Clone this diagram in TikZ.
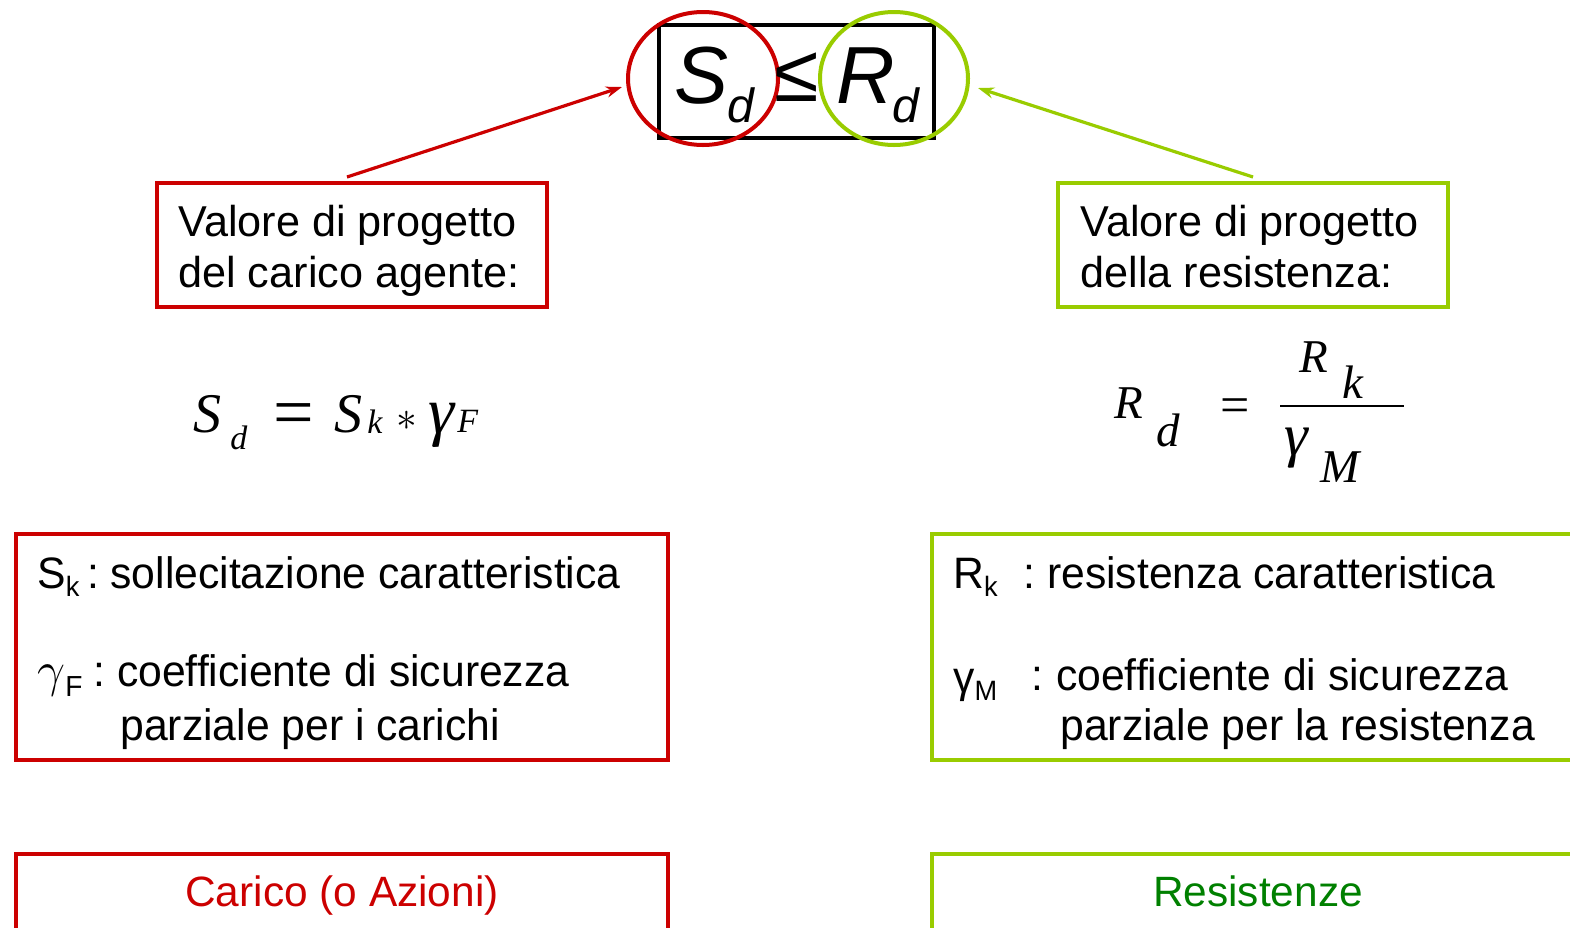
\documentclass[tikz,border=0pt]{standalone}
\usepackage{fontspec}
\setmainfont{Liberation Sans}
\newfontfamily\tms{Liberation Serif}
\newfontfamily\narrow[FakeStretch=0.97]{Liberation Sans}
\usetikzlibrary{arrows.meta,shapes.geometric}
\definecolor{rd}{RGB}{204,0,0}
\definecolor{gn}{RGB}{153,204,0}
\definecolor{dg}{RGB}{0,128,0}
\newcommand{\fs}[1]{\fontsize{#1}{#1}\selectfont}
\begin{document}
\begin{tikzpicture}[x=0.5pt,y=-0.5pt,
  box/.style={draw, line width=2pt, inner sep=0pt},
  redbox/.style={box, draw=rd},
  grnbox/.style={box, draw=gn},
  lab/.style={anchor=base west, inner sep=0pt, font=\narrow\fs{22pt}},
  hd/.style={anchor=base west, inner sep=0pt, font=\fs{21.6pt}},
  fm/.style={anchor=base west, inner sep=0pt, font=\tms\itshape\fs{28pt}},
  fms/.style={anchor=base west, inner sep=0pt, font=\tms\itshape\fs{17pt}},
  fr/.style={anchor=base west, inner sep=0pt, font=\tms\itshape\fs{23.5pt}},
  arr/.style={line width=1.6pt, -{Stealth[length=8pt,width=5.5pt]}}
]
\clip (0,0) rectangle (1570,927);
\fill[white] (0,0) rectangle (1570,927);

% top inequality
\node[box, minimum width=137.5pt, minimum height=56.5pt] (eq) at (796.5,81.5) {};
\node[draw=rd, line width=2pt, ellipse, inner sep=0pt, minimum width=75pt, minimum height=66.5pt] (cs) at (703,78.5) {};
\node[draw=gn, line width=2pt, ellipse, inner sep=0pt, minimum width=74pt, minimum height=66.5pt] (cr) at (894,78.5) {};
\node[anchor=base west, inner sep=0pt, font=\fs{40.5pt}\itshape] (tS) at (674,103) {S\kern-0.5pt\raisebox{-9.5pt}{\fs{24pt}d}};
\node[anchor=base, inner sep=0pt, font=\fs{40.5pt}] (tle) at (797,101) {≤};
\node[anchor=base west, inner sep=0pt, font=\fs{40.5pt}\itshape] (tR) at (836,103) {R\kern-1pt\raisebox{-9.5pt}{\fs{24pt}d}};

% heading boxes
\node[redbox, minimum width=195pt, minimum height=62pt] (b1) at (352,245) {};
\node[grnbox, minimum width=195pt, minimum height=62pt] (b2) at (1253,245) {};
\node[hd] (b1a) at (178,236) {Valore di progetto};
\node[hd] (b1b) at (178,287) {del carico agente:};
\node[hd] (b2a) at (1080,236) {Valore di progetto};
\node[hd] (b2b) at (1080,287) {della resistenza:};

% arrows
\coordinate (ra) at (622,87);
\coordinate (ga) at (978,88);
\draw[arr, rd] ([xshift=-2.5pt,yshift=2pt]b1.north) -- (ra);
\draw[arr, gn] ([yshift=2pt]b2.north) -- (ga);

% left formula
\node[fm] (f1) at (193,432) {S};
\node[fms] (f2) at (230,449) {d};
\node[anchor=base, inner sep=0pt, font=\tms\fs{36pt}] (f3) at (294,436) {=};
\node[fm] (f4) at (334,432) {S};
\node[fms] (f5) at (367,433) {k};
\node[anchor=center, inner sep=0pt, font=\fs{20pt}] (f6) at (407,421) {$\ast$};
\node[anchor=base west, inner sep=0pt, font=\tms\itshape\fs{33pt}] (f7) at (428,433) {γ};
\node[fms] (f8) at (457,432) {F};

% right formula
\node[fr] (g1) at (1114,418) {R};
\node[fr] (g2) at (1156,446) {d};
\node[anchor=base, inner sep=0pt, font=\tms\fs{26pt}] (g3) at (1235,422) {=};
\node[fill=black, inner sep=0pt, minimum width=62pt, minimum height=0.8pt] (g4) at (1342,406) {};
\node[fr] (g5) at (1299,372) {R};
\node[fr] (g6) at (1342,398) {k};
\node[anchor=base west, inner sep=0pt, font=\tms\itshape\fs{30pt}] (g7) at (1284,455) {γ};
\node[fr] (g8) at (1320,482) {M};

% definition boxes
\node[redbox, minimum width=326pt, minimum height=113pt] (b3) at (342,647) {};
\node[grnbox, minimum width=334pt, minimum height=113pt] (b4) at (1266,647) {};
\node[lab] (s1) at (37,588) {S\raisebox{-4pt}{\fs{14pt}k}};
\node[lab] (s2) at (87,588) {:\kern-0.3pt\ sollecitazione caratteristica};
\node[lab] (s3) at (37,686) {\fs{24pt}$\gamma$\raisebox{-5pt}{\fs{14.5pt}F}};
\node[lab] (s4) at (93,686) {:\ coefficiente di sicurezza};
\node[lab] (s5) at (120,740) {parziale per i carichi};
\node[lab] (r1) at (953,588) {R\raisebox{-4pt}{\fs{14pt}k}};
\node[lab] (r2) at (1023,588) {:\ resistenza caratteristica};
\node[lab] (r3) at (953,692) {γ\raisebox{-4pt}{\fs{14pt}M}};
\node[lab] (r4) at (1031,690) {:\kern0.5pt\ coefficiente di sicurezza};
\node[lab] (r5) at (1060,740) {parziale per la resistenza};

% bottom boxes
\node[redbox, minimum width=326pt, minimum height=53pt] (b5) at (342,907) {};
\node[grnbox, minimum width=334pt, minimum height=53pt] (b6) at (1266,907) {};
\node[anchor=base, inner sep=0pt, font=\fs{21.2pt}, text=rd] (c1) at (342,906) {Carico (o Azioni)};
\node[anchor=base, inner sep=0pt, font=\fs{21.2pt}, text=dg] (c2) at (1258,906) {Resistenze};
\end{tikzpicture}
\end{document}
